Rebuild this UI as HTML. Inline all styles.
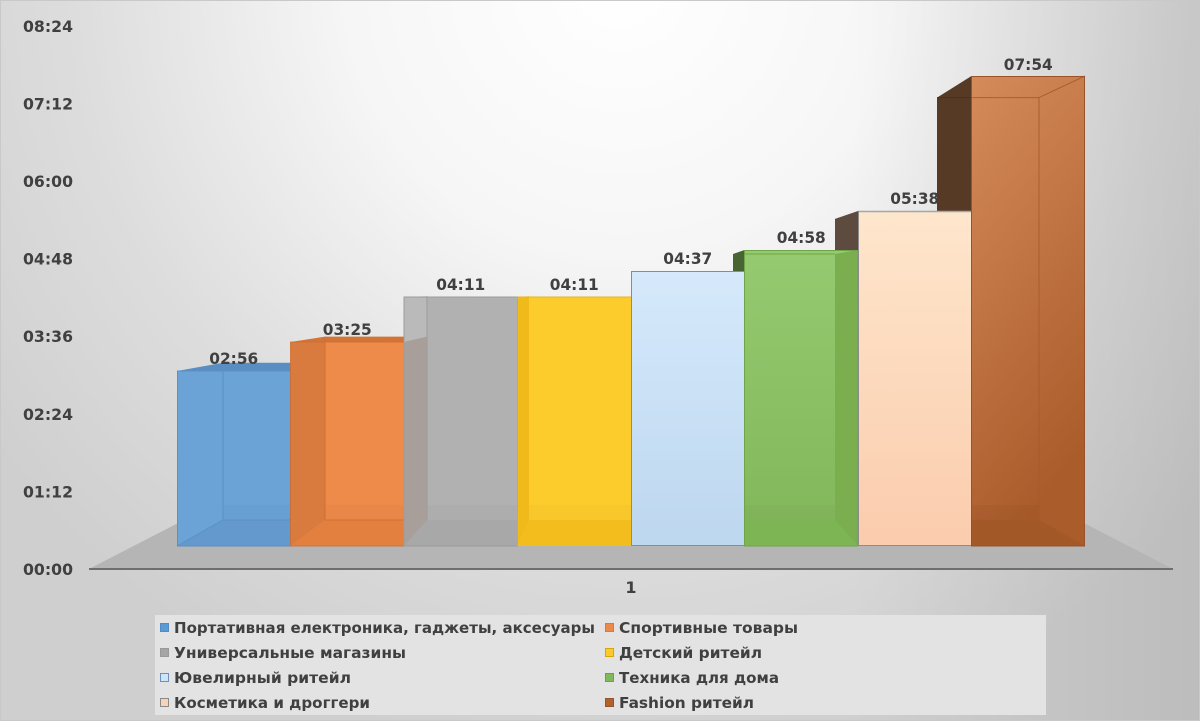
<!DOCTYPE html>
<html>
<head>
<meta charset="utf-8">
<style>
  html, body { margin: 0; padding: 0; }
  body { width: 1200px; height: 721px; overflow: hidden; background: #ddd; }
  svg { display: block; }
  .lbl { font-family: "DejaVu Sans", "Liberation Sans", sans-serif; font-weight: bold; font-size: 16px; fill: #404040; }
  .leg { font-family: "DejaVu Sans", "Liberation Sans", sans-serif; font-weight: bold; font-size: 15px; fill: #404040; }
</style>
</head>
<body>
<svg width="1200" height="721" viewBox="0 0 1200 721" xmlns="http://www.w3.org/2000/svg">
  <defs>
    <radialGradient id="bg" gradientUnits="userSpaceOnUse" cx="620" cy="-20" r="780">
      <stop offset="0" stop-color="#ffffff"/>
      <stop offset="0.35" stop-color="#f6f6f6"/>
      <stop offset="0.7" stop-color="#dddddd"/>
      <stop offset="1" stop-color="#cfcfcf"/>
    </radialGradient>
    <linearGradient id="rdark" gradientUnits="userSpaceOnUse" x1="850" y1="0" x2="1200" y2="0">
      <stop offset="0" stop-color="#000" stop-opacity="0"/>
      <stop offset="1" stop-color="#000" stop-opacity="0.09"/>
    </linearGradient>
    <linearGradient id="gLB" x1="0" y1="0" x2="0" y2="1">
      <stop offset="0" stop-color="#d5e9fb"/>
      <stop offset="1" stop-color="#bdd7ef"/>
    </linearGradient>
    <linearGradient id="gGR" x1="0" y1="0" x2="0" y2="1">
      <stop offset="0" stop-color="#96ca70"/>
      <stop offset="1" stop-color="#82b65a"/>
    </linearGradient>
    <linearGradient id="gPE" x1="0" y1="0" x2="0" y2="1">
      <stop offset="0" stop-color="#fee6cc"/>
      <stop offset="1" stop-color="#fbccad"/>
    </linearGradient>
    <linearGradient id="gBR" x1="0" y1="0" x2="0.3" y2="1">
      <stop offset="0" stop-color="#d58b5a"/>
      <stop offset="1" stop-color="#ab5c2b"/>
    </linearGradient>
  </defs>

  <!-- background -->
  <rect x="0" y="0" width="1200" height="721" fill="url(#bg)"/>
  <rect x="0" y="0" width="1200" height="721" fill="url(#rdark)"/>
  <rect x="0.5" y="0.5" width="1199" height="720" fill="none" stroke="#c9c9c9" stroke-width="1"/>

  <!-- floor -->
  <polygon points="89,569 1173,569 1049,505 213,505" fill="#b5b5b5"/>
  <line x1="89" y1="569" x2="1173" y2="569" stroke="#6e6e6e" stroke-width="2"/>

  <!-- side / top faces (behind fronts) -->
  <polygon points="177,371 290.5,371 325,362.7 223,362.7" fill="#5a8ec2"/>
  <polygon points="290.5,342 404,342 427,336.6 325,336.6" fill="#d27438"/>
  <polygon points="744.5,250 733,254 733,520 744.5,546" fill="#476432"/>
  <polygon points="858,211 835,218.9 835,520 858,546" fill="#5d4b40"/>
  <polygon points="971.5,76 937,97.6 937,520 971.5,546" fill="#573a25"/>
  <line x1="937" y1="97.6" x2="971.5" y2="97.6" stroke="#4a301e" stroke-width="1"/>

  <!-- BLUE -->
  <rect x="177" y="371" width="113.5" height="175" fill="#6ba3d7"/>
  <polygon points="177,546 223,520 290.5,520 290.5,546" fill="#6399cd"/>
  <rect x="223" y="505" width="67.5" height="15" fill="#000" opacity="0.02"/>
  <g stroke="#5a90c5" stroke-width="1" fill="none">
    <line x1="223" y1="362.7" x2="223" y2="520"/>
    <line x1="177" y1="546" x2="223" y2="520"/>
    <line x1="223" y1="520" x2="290.5" y2="520"/>
    <rect x="177.5" y="371" width="113" height="175"/>
  </g>

  <!-- ORANGE -->
  <rect x="290.5" y="342" width="113.5" height="204" fill="#ee8a4a"/>
  <polygon points="290.5,342 325,342 325,520 290.5,546" fill="#d97a3e"/>
  <polygon points="290.5,546 325,520 404,520 404,546" fill="#e3803f"/>
  <rect x="325" y="505" width="79" height="15" fill="#000" opacity="0.02"/>
  <g stroke="#cd6d31" stroke-width="1" fill="none" opacity="0.8">
    <line x1="325" y1="336.6" x2="325" y2="520"/>
    <line x1="325" y1="520" x2="404" y2="520"/>
    <rect x="290.5" y="342" width="113.5" height="204"/>
  </g>

  <!-- GRAY -->
  <rect x="404" y="297" width="113.5" height="249" fill="#b1b1b1"/>
  <polygon points="404,297 427,296.2 427,336.6 404,342" fill="#bababa"/>
  <polygon points="404,342 427,336.6 427,520 404,546" fill="#a89f9a"/>
  <polygon points="404,546 427,520 517.5,520 517.5,546" fill="#a8a8a8"/>
  <rect x="427" y="505" width="90.5" height="15" fill="#000" opacity="0.02"/>
  <g stroke="#9c9c9c" stroke-width="1" fill="none">
    <line x1="427" y1="296.2" x2="427" y2="520"/>
    <rect x="404" y="297" width="113.5" height="249"/>
  </g>

  <!-- YELLOW -->
  <rect x="517.5" y="297" width="113.5" height="249" fill="#fccb2c"/>
  <polygon points="517.5,297 529,296.2 529,520 517.5,546" fill="#efba1a"/>
  <polygon points="517.5,546 529,520 631,520 631,546" fill="#f3bd1e"/>
  <rect x="529" y="505" width="102" height="15" fill="#000" opacity="0.02"/>
  <line x1="517.5" y1="297" x2="631" y2="297" stroke="#e7b420" stroke-width="1"/>

  <!-- LIGHT BLUE -->
  <rect x="631.5" y="271.5" width="113" height="274" fill="url(#gLB)" stroke="#7090bc" stroke-width="1"/>

  <!-- GREEN -->
  <rect x="744.5" y="250" width="113.5" height="296" fill="url(#gGR)"/>
  <polygon points="858,250 835,254 835,520 858,546" fill="#7aae4f"/>
  <polygon points="744.5,546 744.5,520 835,520 858,546" fill="#7db454"/>
  <rect x="744.5" y="505" width="90.5" height="15" fill="#000" opacity="0.02"/>
  <g stroke="#6fa546" stroke-width="1" fill="none">
    <line x1="744.5" y1="254" x2="835" y2="254"/>
    <rect x="744.5" y="250.5" width="113.5" height="295.5"/>
  </g>

  <!-- PEACH -->
  <rect x="858" y="211" width="113.5" height="335" fill="url(#gPE)"/>
  <line x1="858" y1="211.5" x2="971.5" y2="211.5" stroke="#a3a6aa" stroke-width="1.5"/>
  <line x1="858.5" y1="211" x2="858.5" y2="546" stroke="#8c8c8c" stroke-width="1"/>
  <line x1="858" y1="545.5" x2="971.5" y2="545.5" stroke="#8c8c8c" stroke-width="1"/>

  <!-- BROWN -->
  <rect x="971.5" y="76" width="113.5" height="470" fill="url(#gBR)"/>
  <polygon points="971.5,546 971.5,520 1039,520 1085,546" fill="#a35828"/>
  <rect x="971.5" y="505" width="67.5" height="15" fill="#000" opacity="0.03"/>
  <g stroke="#a8582a" stroke-width="1" fill="none" opacity="0.85">
    <line x1="971.5" y1="97.6" x2="1039" y2="97.6"/>
    <line x1="1039" y1="97.6" x2="1039" y2="520"/>
    <line x1="1039" y1="97.6" x2="1085" y2="76"/>
    <line x1="1039" y1="520" x2="1085" y2="546"/>
    <line x1="971.5" y1="520" x2="1039" y2="520"/>
  </g>
  <rect x="971.5" y="76.5" width="113" height="469.5" fill="none" stroke="#97532a" stroke-width="1"/>

  <!-- data labels -->
  <text class="lbl" x="233.75" y="364" text-anchor="middle" textLength="49" lengthAdjust="spacingAndGlyphs">02:56</text>
  <text class="lbl" x="347.25" y="335" text-anchor="middle" textLength="49" lengthAdjust="spacingAndGlyphs">03:25</text>
  <text class="lbl" x="460.75" y="290" text-anchor="middle" textLength="49" lengthAdjust="spacingAndGlyphs">04:11</text>
  <text class="lbl" x="574.25" y="290" text-anchor="middle" textLength="49" lengthAdjust="spacingAndGlyphs">04:11</text>
  <text class="lbl" x="687.75" y="264" text-anchor="middle" textLength="49" lengthAdjust="spacingAndGlyphs">04:37</text>
  <text class="lbl" x="801.25" y="243" text-anchor="middle" textLength="49" lengthAdjust="spacingAndGlyphs">04:58</text>
  <text class="lbl" x="914.75" y="204" text-anchor="middle" textLength="49" lengthAdjust="spacingAndGlyphs">05:38</text>
  <text class="lbl" x="1028.25" y="70" text-anchor="middle" textLength="49" lengthAdjust="spacingAndGlyphs">07:54</text>

  <!-- y axis labels -->
  <text class="lbl" x="73" y="32" text-anchor="end" textLength="50" lengthAdjust="spacingAndGlyphs">08:24</text>
  <text class="lbl" x="73" y="109.5" text-anchor="end" textLength="50" lengthAdjust="spacingAndGlyphs">07:12</text>
  <text class="lbl" x="73" y="187" text-anchor="end" textLength="50" lengthAdjust="spacingAndGlyphs">06:00</text>
  <text class="lbl" x="73" y="264.5" text-anchor="end" textLength="50" lengthAdjust="spacingAndGlyphs">04:48</text>
  <text class="lbl" x="73" y="342" text-anchor="end" textLength="50" lengthAdjust="spacingAndGlyphs">03:36</text>
  <text class="lbl" x="73" y="420" text-anchor="end" textLength="50" lengthAdjust="spacingAndGlyphs">02:24</text>
  <text class="lbl" x="73" y="497.5" text-anchor="end" textLength="50" lengthAdjust="spacingAndGlyphs">01:12</text>
  <text class="lbl" x="73" y="575" text-anchor="end" textLength="50" lengthAdjust="spacingAndGlyphs">00:00</text>

  <!-- category label -->
  <text class="lbl" x="631" y="593" text-anchor="middle">1</text>

  <!-- legend -->
  <rect x="155" y="615" width="891" height="100" fill="#e3e3e3"/>
  <rect x="160.5" y="623.5" width="8" height="8" fill="#5b9bd5" stroke="#4f8cc6" stroke-width="1"/>
  <text class="leg" x="174" y="633" textLength="421" lengthAdjust="spacingAndGlyphs">Портативная електроника, гаджеты, аксесуары</text>
  <rect x="160.5" y="648.5" width="8" height="8" fill="#a5a5a5" stroke="#999" stroke-width="1"/>
  <text class="leg" x="174" y="658" textLength="232" lengthAdjust="spacingAndGlyphs">Универсальные магазины</text>
  <rect x="160.5" y="673.5" width="8" height="8" fill="#cfe4f7" stroke="#6f90bc" stroke-width="1"/>
  <text class="leg" x="174" y="683" textLength="177" lengthAdjust="spacingAndGlyphs">Ювелирный ритейл</text>
  <rect x="160.5" y="698.5" width="8" height="8" fill="#fbd3b4" stroke="#8a8a8a" stroke-width="1"/>
  <text class="leg" x="174" y="708" textLength="196" lengthAdjust="spacingAndGlyphs">Косметика и дроггери</text>

  <rect x="605.5" y="623.5" width="8" height="8" fill="#ed8a4a" stroke="#d97a3a" stroke-width="1"/>
  <text class="leg" x="619" y="633" textLength="179" lengthAdjust="spacingAndGlyphs">Спортивные товары</text>
  <rect x="605.5" y="648.5" width="8" height="8" fill="#fcca2c" stroke="#d9a800" stroke-width="1"/>
  <text class="leg" x="619" y="658" textLength="143" lengthAdjust="spacingAndGlyphs">Детский ритейл</text>
  <rect x="605.5" y="673.5" width="8" height="8" fill="#80b85a" stroke="#6aa244" stroke-width="1"/>
  <text class="leg" x="619" y="683" textLength="160" lengthAdjust="spacingAndGlyphs">Техника для дома</text>
  <rect x="605.5" y="698.5" width="8" height="8" fill="#b1622f" stroke="#97532a" stroke-width="1"/>
  <text class="leg" x="619" y="708" textLength="135" lengthAdjust="spacingAndGlyphs">Fashion ритейл</text>
</svg>
</body>
</html>
